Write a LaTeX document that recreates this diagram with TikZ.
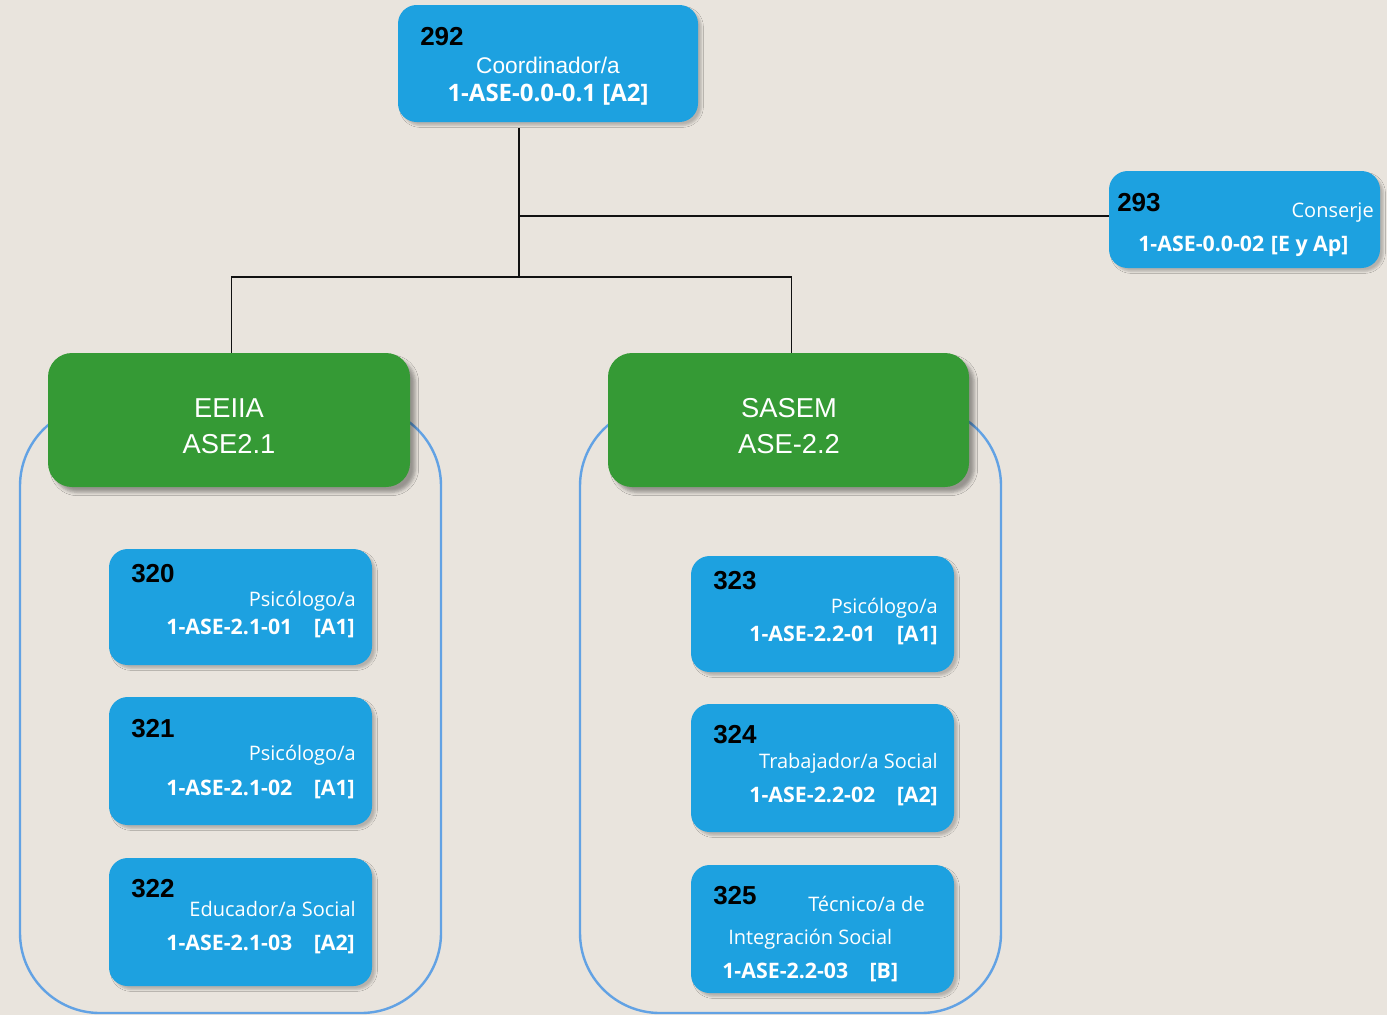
\documentclass[tikz,border=0pt]{standalone}
\usepackage{fontspec}
\setmainfont{Liberation Sans}
\newfontfamily\uifont{Open Sans}
\usetikzlibrary{positioning,fit,shadows.blur}
\definecolor{cBg}{HTML}{E9E4DD}
\definecolor{cBlue}{HTML}{1DA1E0}
\definecolor{cGreen}{HTML}{359A35}
\definecolor{cRim}{HTML}{62A2E4}
\definecolor{cInk}{HTML}{111111}
\tikzset{
  bluebox/.style ={rounded corners=14pt,fill=cBlue,inner sep=0pt,
                   blur shadow={shadow xshift=2.5pt,shadow yshift=-2.5pt,shadow blur radius=1.5pt,shadow opacity=22}},
  greenbox/.style={rounded corners=18pt,fill=cGreen,inner sep=0pt,
                   blur shadow={shadow xshift=4pt,shadow yshift=-4pt,shadow blur radius=2.5pt,shadow opacity=35}},
  unit/.style    ={align=center,text=white,inner sep=0pt,font=\fontsize{20.5}{27}\selectfont},
  rim/.style     ={draw=cRim,line width=1.8pt,rounded corners=60pt,inner sep=0pt},
  link/.style    ={draw=cInk,line width=0.8pt},
  num/.style     ={font=\fontsize{19.5}{19.5}\selectfont\bfseries,text=black,inner sep=0pt},
  role/.style    ={font=\uifont\fontsize{15}{15}\selectfont,text=white,inner sep=0pt},
  rolehd/.style  ={font=\fontsize{17}{17}\selectfont,text=white,inner sep=0pt},
  code/.style    ={font=\uifont\fontsize{16}{16}\selectfont\bfseries,text=white,inner sep=0pt},
  codehd/.style  ={font=\uifont\fontsize{18}{18}\selectfont\bfseries,text=white,inner sep=0pt},
}

\begin{document}
\begin{tikzpicture}[x=0.75pt,y=-0.75pt]
\fill[cBg] (0,0) rectangle (1387,1015);
\useasboundingbox (0,0) rectangle (1387,1015);

% group outlines
\node[rim,fit={(20,406) (441,1013)}] (grpA) {};
\node[rim,fit={(580,406) (1001,1013)}] (grpB) {};

% head and side post
\node[bluebox,fit={(398,5) (698,122)}] (coord) {};
\node[num,anchor=base west] at (420,45) {292};
\node[rolehd,anchor=base] at (548,73) {Coordinador/a};
\node[codehd,anchor=base] at (548,101) {1-ASE-0.0-0.1 [A2]};

\node[bluebox,fit={(1109,171) (1380,268)}] (consj) {};
\node[num,anchor=base west] at (1117,211) {293};
\node[role,anchor=base east] at (1374,217) {Conserje};
\node[code,anchor=base west] at (1138,251) {1-ASE-0.0-02\hspace{5pt}[E y Ap]};

% units
\node[greenbox,fit={(48,353) (410,487)}] (eeiia) {};
\node[unit] at (229,426) {EEIIA\\ASE2.1};
\node[greenbox,fit={(608,353) (969,487)}] (sasem) {};
\node[unit] at (789,426) {SASEM\\ASE-2.2};

% connectors
\coordinate (jc) at (519,216);
\coordinate (jb) at (519,277);
\draw[link] ([yshift=-4pt]coord.south -| jc) -- (jb);
\draw[link] (jc) -- (jc -| consj.west);
\draw[link] (jb) -| ([xshift=2pt]eeiia.north);
\draw[link] (jb) -| ([xshift=2pt]sasem.north);

% posts of EEIIA
\node[bluebox,fit={(109,549) (372,665)}] (p320) {};
\node[num,anchor=base west] at (131,582) {320};
\node[role,anchor=base east] at (356,606) {Psicólogo/a};
\node[code,anchor=base east] at (355,634) {1-ASE-2.1-01\hspace{16pt}[A1]};

\node[bluebox,fit={(109,697) (372,825)}] (p321) {};
\node[num,anchor=base west] at (131,737) {321};
\node[role,anchor=base east] at (356,760) {Psicólogo/a};
\node[code,anchor=base east] at (355,795) {1-ASE-2.1-02\hspace{16pt}[A1]};

\node[bluebox,fit={(109,858) (372,986)}] (p322) {};
\node[num,anchor=base west] at (131,897) {322};
\node[role,anchor=base east] at (356,916) {Educador/a Social};
\node[code,anchor=base east] at (355,950) {1-ASE-2.1-03\hspace{16pt}[A2]};

% posts of SASEM
\node[bluebox,fit={(691,556) (954,672)}] (p323) {};
\node[num,anchor=base west] at (713,589) {323};
\node[role,anchor=base east] at (938,613) {Psicólogo/a};
\node[code,anchor=base east] at (938,641) {1-ASE-2.2-01\hspace{16pt}[A1]};

\node[bluebox,fit={(691,704) (954,832)}] (p324) {};
\node[num,anchor=base west] at (713,743) {324};
\node[role,anchor=base east] at (938,768) {Trabajador/a Social};
\node[code,anchor=base east] at (938,802) {1-ASE-2.2-02\hspace{16pt}[A2]};

\node[bluebox,fit={(691,865) (954,993)}] (p325) {};
\node[num,anchor=base west] at (713,904) {325};
\node[role,anchor=base east] at (925,911) {Técnico/a de};
\node[role,anchor=base west] at (728,944) {Integración Social};
\node[code,anchor=base west] at (722,978) {1-ASE-2.2-03\hspace{16pt}[B]};
\end{tikzpicture}
\end{document}
